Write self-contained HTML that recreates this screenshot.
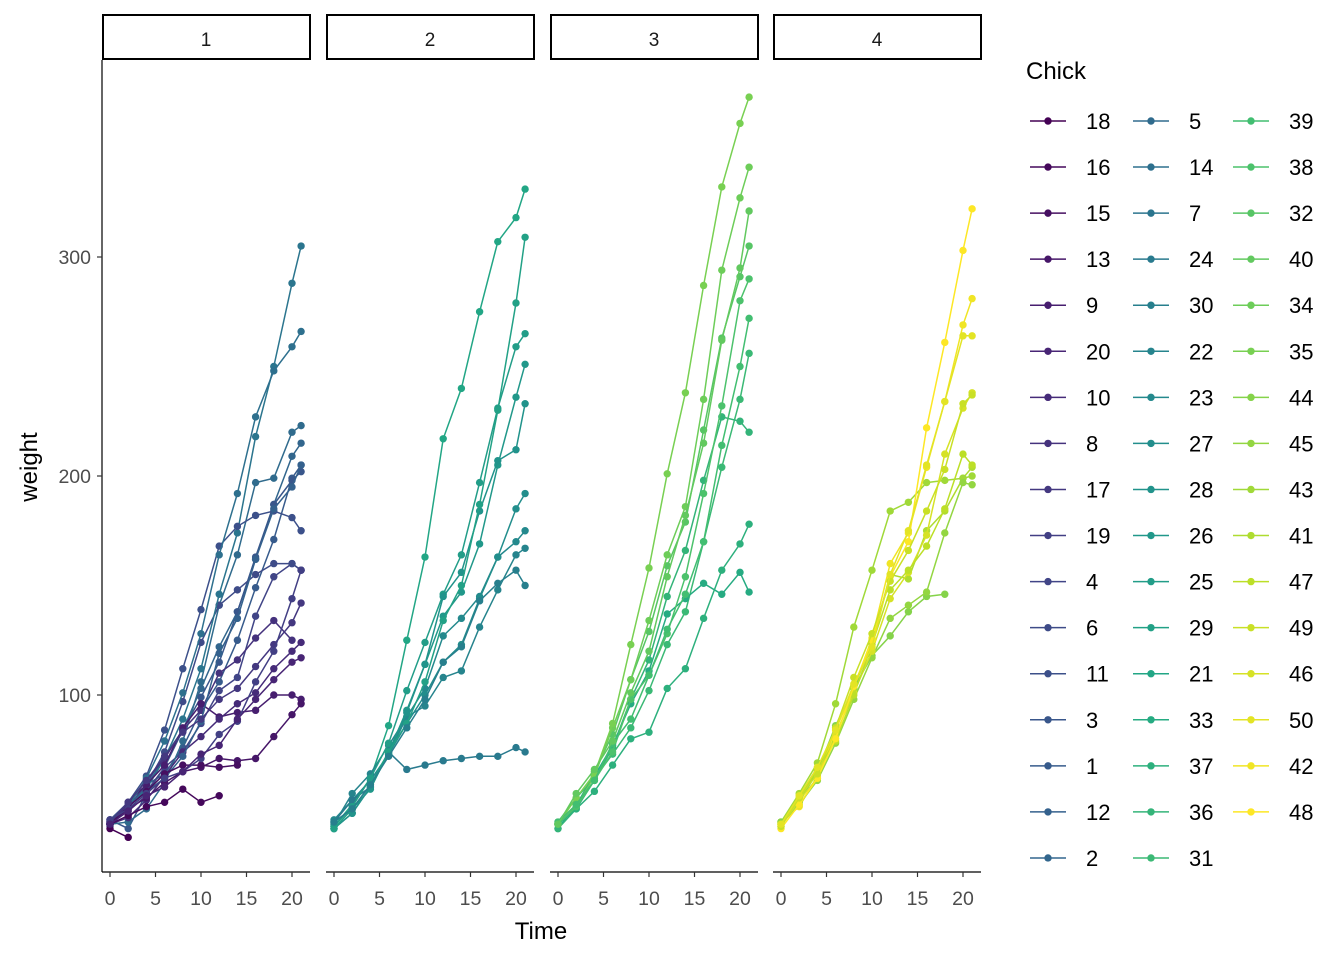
<!DOCTYPE html>
<html><head><meta charset="utf-8"><style>
html,body{margin:0;padding:0;background:#fff;}
svg{display:block;font-family:"Liberation Sans",sans-serif;}
</style></head><body>
<svg id="chart" width="1344" height="960" viewBox="0 0 1344 960" xmlns="http://www.w3.org/2000/svg"></svg>
<script>
const times=[0,2,4,6,8,10,12,14,16,18,20,21];
const chickIds=[1,2,3,4,5,6,7,8,9,10,11,12,13,14,15,16,17,18,19,20,21,22,23,24,25,26,27,28,29,30,31,32,33,34,35,36,37,38,39,40,41,42,43,44,45,46,47,48,49,50];
const chickWeights=[
[42,51,59,64,76,93,106,125,149,171,199,205],
[40,49,58,72,84,103,122,138,162,187,209,215],
[43,39,55,67,84,99,115,138,163,187,198,202],
[42,49,56,67,74,87,102,108,136,154,160,157],
[41,42,48,60,79,106,141,164,197,199,220,223],
[41,49,59,74,97,124,141,148,155,160,160,157],
[41,49,57,71,89,112,146,174,218,250,288,305],
[42,50,61,71,84,93,110,116,126,134,125],
[42,51,59,68,85,96,90,92,93,100,100,98],
[41,44,52,63,74,81,89,96,101,112,120,124],
[43,51,63,84,112,139,168,177,182,184,181,175],
[41,49,56,62,72,88,119,135,162,185,195,205],
[41,48,53,60,65,67,71,70,71,81,91,96],
[41,49,62,79,101,128,164,192,227,248,259,266],
[41,49,56,64,68,68,67,68],
[41,45,49,51,57,51,54],
[42,51,61,72,83,89,98,103,113,123,133,142],
[39,35],
[43,48,55,62,65,71,82,88,106,120,144,157],
[41,47,54,58,65,73,77,89,98,107,115,117],
[40,50,62,86,125,163,217,240,275,307,318,331],
[41,55,64,77,90,95,108,111,131,148,164,167],
[43,52,61,73,90,103,127,135,145,163,170,175],
[42,52,58,74,66,68,70,71,72,72,76,74],
[40,49,62,78,102,124,146,164,197,231,259,265],
[42,48,57,74,93,114,136,147,169,205,236,251],
[39,46,58,73,87,100,115,123,144,163,185,192],
[39,46,58,73,92,114,145,156,184,207,212,233],
[39,48,59,74,87,106,134,150,187,230,279,309],
[42,48,59,72,85,98,115,122,143,151,157,150],
[42,53,62,73,85,102,123,138,170,204,235,256],
[41,49,65,82,107,129,159,179,221,263,291,305],
[39,50,63,77,96,111,137,144,151,146,156,147],
[41,49,63,85,107,134,164,186,235,294,327,341],
[41,53,64,87,123,158,201,238,287,332,361,373],
[39,48,61,76,98,116,145,166,198,227,225,220],
[41,48,56,68,80,83,103,112,135,157,169,178],
[41,49,61,74,98,109,128,154,192,232,280,290],
[42,50,61,78,89,109,130,146,170,214,250,272],
[41,55,66,79,101,120,154,182,215,262,295,321],
[42,51,66,85,103,124,155,153,175,184,199,204],
[42,49,63,84,103,126,160,174,204,234,269,281],
[42,55,69,96,131,157,184,188,197,198,199,200],
[42,51,65,86,103,118,127,138,145,146],
[41,50,61,78,98,117,135,141,147,174,197,196],
[40,52,62,82,101,120,144,156,173,210,231,238],
[41,53,66,79,100,123,148,157,168,185,210,205],
[39,50,62,80,104,125,154,170,222,261,303,322],
[40,53,64,85,108,128,152,166,184,203,233,237],
[41,54,67,84,105,122,155,175,205,234,264,264]
];
const chickDiet=[1,1,1,1,1,1,1,1,1,1,1,1,1,1,1,1,1,1,1,1,2,2,2,2,2,2,2,2,2,2,3,3,3,3,3,3,3,3,3,3,4,4,4,4,4,4,4,4,4,4];
const legendOrder=[18,16,15,13,9,20,10,8,17,19,4,6,11,3,1,12,2,5,14,7,24,30,22,23,27,28,26,25,29,21,33,37,36,31,39,38,32,40,34,35,44,45,43,41,47,49,46,50,42,48];
const dietLabels=["1","2","3","4"];
const xTicks=[0,5,10,15,20];
const yTicks=[100,200,300];

const svg=document.getElementById('chart');
const NS='http://www.w3.org/2000/svg';
function mk(tag,attrs,parent){const e=document.createElementNS(NS,tag);for(const k in attrs)e.setAttribute(k,attrs[k]);(parent||svg).appendChild(e);return e;}
const vir=[[68,1,84],[72,36,117],[65,68,135],[53,95,141],[42,120,142],[33,145,140],[34,168,132],[68,191,112],[122,209,81],[189,223,38],[253,231,37]];
function viridis(t){const p=t*(vir.length-1);const i=Math.min(Math.floor(p),vir.length-2);const f=p-i;const a=vir[i],b=vir[i+1];return 'rgb('+[0,1,2].map(k=>Math.round(a[k]+(b[k]-a[k])*f)).join(',')+')';}
function colorOf(id){const r=legendOrder.indexOf(id);return viridis(r/(legendOrder.length-1));}

const panelLeft=[102,326,550,773],panelW=208;
const plotTop=60,plotBottom=872;
function xScale(p,t){return panelLeft[p]+8+t*9.1;}
function yScale(w){return 914-w*2.19;}

dietLabels.forEach((lab,p)=>{
  const r=mk('rect',{x:panelLeft[p]+1,y:15,width:panelW-1,height:44,fill:'#fff',stroke:'#000','stroke-width':2});
  
  const t=mk('text',{x:panelLeft[p]+panelW/2,y:46,'text-anchor':'middle','font-size':19,fill:'#1a1a1a'});t.textContent=lab;
  
  const ax=mk('line',{x1:panelLeft[p],x2:panelLeft[p]+panelW,y1:plotBottom,y2:plotBottom,stroke:'#000','stroke-width':1.2});
  
  xTicks.forEach(v=>{const x=xScale(p,v);
    mk('line',{x1:x,x2:x,y1:plotBottom,y2:plotBottom+5,stroke:'#333','stroke-width':1.2});
    const tl=mk('text',{x:x,y:905,'text-anchor':'middle','font-size':19.5,fill:'#4d4d4d'});tl.textContent=v;
    });
});
const yl=mk('line',{x1:102,x2:102,y1:plotTop,y2:plotBottom,stroke:'#000','stroke-width':1.2});

yTicks.forEach(v=>{const y=yScale(v);
  mk('line',{x1:97,x2:102,y1:y,y2:y,stroke:'#333','stroke-width':1.2});
  const tl=mk('text',{x:91,y:y+7,'text-anchor':'end','font-size':19.5,fill:'#4d4d4d'});tl.textContent=v;
  });
const xt=mk('text',{x:541,y:939,'text-anchor':'middle','font-size':24,fill:'#000'});xt.textContent='Time';

const yt=mk('text',{x:0,y:0,'text-anchor':'middle','font-size':24,fill:'#000',transform:'translate(37,467) rotate(-90)'});yt.textContent='weight';


chickIds.forEach((id,i)=>{
  const p=chickDiet[i]-1,w=chickWeights[i],c=colorOf(id);
  const g=mk('g',{});
  
  const pts=w.map((v,j)=>xScale(p,times[j]).toFixed(1)+','+yScale(v).toFixed(1)).join(' ');
  mk('polyline',{points:pts,fill:'none',stroke:c,'stroke-width':1.5},g);
  w.forEach((v,j)=>{const pt=mk('circle',{cx:xScale(p,times[j]),cy:yScale(v),r:3.7,fill:c},g);
    });
});

const lt=mk('text',{x:1026,y:79,'font-size':24,fill:'#000'});lt.textContent='Chick';

const colX=[1048,1151,1251];
legendOrder.forEach((id,k)=>{
  const col=Math.floor(k/17),row=k%17,cx=colX[col],y=121+row*46.06,c=colorOf(id);
  const g=mk('g',{});
  
  mk('line',{x1:cx-18,x2:cx+18,y1:y,y2:y,stroke:c,'stroke-width':1.5},g);
  mk('circle',{cx:cx,cy:y,r:3.7,fill:c},g);
  const t=mk('text',{x:cx+38,y:y+8,'font-size':22,fill:'#000'},g);t.textContent=id;
});
</script>
</body></html>
